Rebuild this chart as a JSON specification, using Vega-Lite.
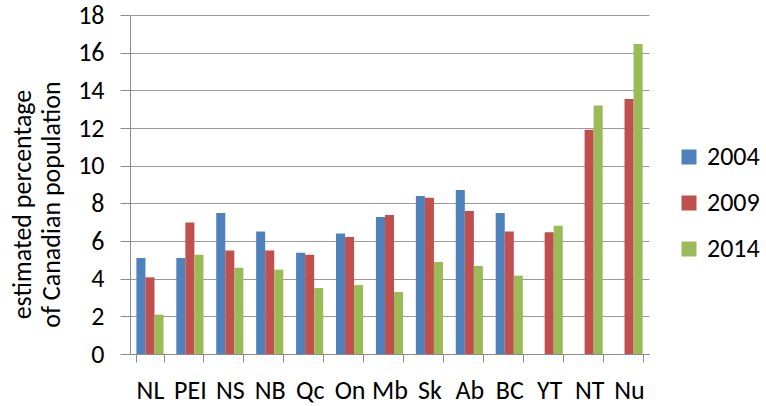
{
  "$schema": "https://vega.github.io/schema/vega-lite/v6.json",
  "width": 519,
  "height": 339,
  "autosize": {"type": "none"},
  "padding": {"left": 130, "top": 15, "right": 117, "bottom": 52},
  "background": "white",
  "config": {
    "font": "Carlito, Liberation Sans, sans-serif",
    "view": {"stroke": null}
  },
  "data": {
    "values": [
      {"prov": "NL", "year": "2004", "value": 5.1},
      {"prov": "NL", "year": "2009", "value": 4.07},
      {"prov": "NL", "year": "2014", "value": 2.09},
      {"prov": "PEI", "year": "2004", "value": 5.1},
      {"prov": "PEI", "year": "2009", "value": 6.98},
      {"prov": "PEI", "year": "2014", "value": 5.27},
      {"prov": "NS", "year": "2004", "value": 7.49},
      {"prov": "NS", "year": "2009", "value": 5.49},
      {"prov": "NS", "year": "2014", "value": 4.58},
      {"prov": "NB", "year": "2004", "value": 6.51},
      {"prov": "NB", "year": "2009", "value": 5.49},
      {"prov": "NB", "year": "2014", "value": 4.48},
      {"prov": "Qc", "year": "2004", "value": 5.38},
      {"prov": "Qc", "year": "2009", "value": 5.27},
      {"prov": "Qc", "year": "2014", "value": 3.5},
      {"prov": "On", "year": "2004", "value": 6.4},
      {"prov": "On", "year": "2009", "value": 6.21},
      {"prov": "On", "year": "2014", "value": 3.66},
      {"prov": "Mb", "year": "2004", "value": 7.27},
      {"prov": "Mb", "year": "2009", "value": 7.38},
      {"prov": "Mb", "year": "2014", "value": 3.29},
      {"prov": "Sk", "year": "2004", "value": 8.39},
      {"prov": "Sk", "year": "2009", "value": 8.3},
      {"prov": "Sk", "year": "2014", "value": 4.88},
      {"prov": "Ab", "year": "2004", "value": 8.71},
      {"prov": "Ab", "year": "2009", "value": 7.59},
      {"prov": "Ab", "year": "2014", "value": 4.67},
      {"prov": "BC", "year": "2004", "value": 7.49},
      {"prov": "BC", "year": "2009", "value": 6.51},
      {"prov": "BC", "year": "2014", "value": 4.16},
      {"prov": "YT", "year": "2009", "value": 6.46},
      {"prov": "YT", "year": "2014", "value": 6.81},
      {"prov": "NT", "year": "2009", "value": 11.91},
      {"prov": "NT", "year": "2014", "value": 13.19},
      {"prov": "Nu", "year": "2009", "value": 13.54},
      {"prov": "Nu", "year": "2014", "value": 16.46}
    ]
  },
  "mark": {"type": "bar"},
  "encoding": {
    "x": {
      "field": "prov",
      "type": "nominal",
      "sort": ["NL", "PEI", "NS", "NB", "Qc", "On", "Mb", "Sk", "Ab", "BC", "YT", "NT", "Nu"],
      "scale": {"paddingInner": 0.32, "paddingOuter": 0.16},
      "axis": {
        "title": null,
        "labelAngle": 0,
        "tickBand": "extent",
        "labelFontSize": 26,
        "labelColor": "black",
        "labelPadding": 15,
        "domainColor": "#8c8c8c",
        "tickColor": "#8c8c8c",
        "tickSize": 8
      }
    },
    "xOffset": {"field": "year", "type": "nominal"},
    "y": {
      "field": "value",
      "type": "quantitative",
      "scale": {"domain": [0, 18]},
      "axis": {
        "values": [0, 2, 4, 6, 8, 10, 12, 14, 16, 18],
        "title": ["estimated percentage", "of Canadian population"],
        "titleFontSize": 26,
        "titleFontWeight": "normal",
        "titleColor": "black",
        "titleLineHeight": 29,
        "titlePadding": 13,
        "titleY": 189,
        "labelFontSize": 26,
        "labelColor": "black",
        "labelPadding": 16,
        "gridColor": "#9a9a9a",
        "gridWidth": 1.2,
        "domainColor": "#8c8c8c",
        "tickColor": "#8c8c8c",
        "tickSize": 10
      }
    },
    "color": {
      "field": "year",
      "type": "nominal",
      "scale": {"domain": ["2004", "2009", "2014"], "range": ["#4F81BD", "#C0504D", "#9BBB59"]},
      "legend": {
        "title": null,
        "orient": "none",
        "legendX": 546,
        "legendY": 129,
        "padding": 0,
        "symbolType": "square",
        "symbolSize": 225,
        "symbolStrokeWidth": 0,
        "labelFontSize": 26,
        "labelColor": "black",
        "rowPadding": 20,
        "labelOffset": 5
      }
    }
  }
}
